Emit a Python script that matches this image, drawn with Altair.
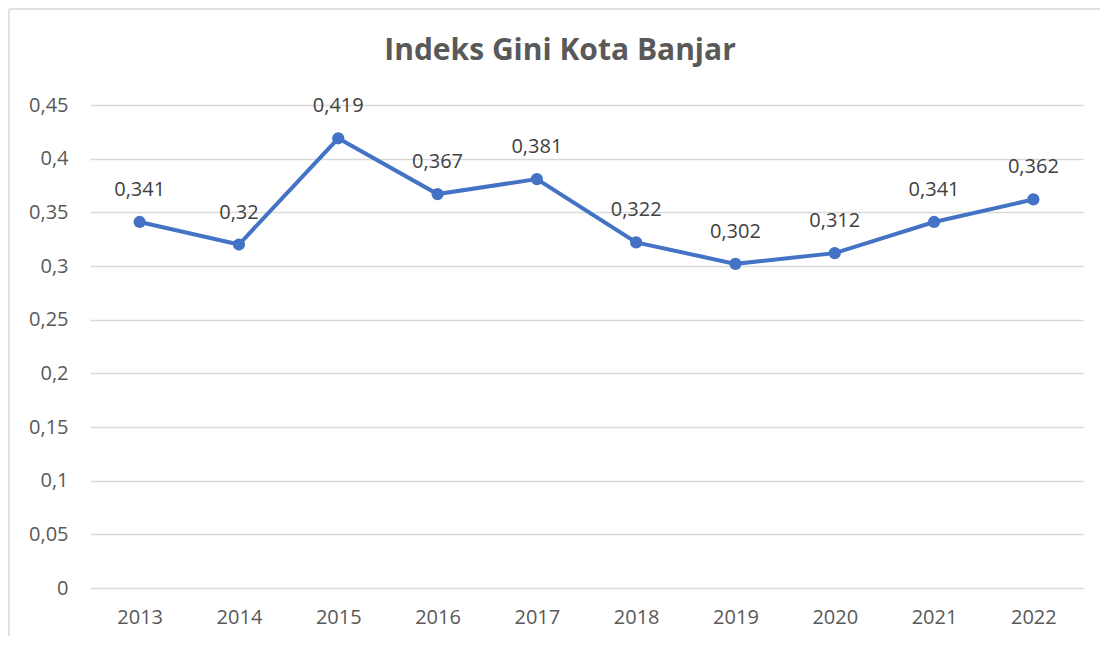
import altair as alt
import pandas as pd

years = ["2013", "2014", "2015", "2016", "2017", "2018", "2019", "2020", "2021", "2022"]
gini = [0.341, 0.32, 0.419, 0.367, 0.381, 0.322, 0.302, 0.312, 0.341, 0.362]
labels = ["0,341", "0,32", "0,419", "0,367", "0,381", "0,322", "0,302", "0,312", "0,341", "0,362"]
title_text = "Indeks Gini Kota Banjar"

df = pd.DataFrame({"year": years, "gini": gini, "label": labels})

FONT = "Open Sans"
FS = 20
W, H = 993, 483

x = alt.X("year:N", sort=years, title=None,
          scale=alt.Scale(paddingInner=1, paddingOuter=0.5),
          axis=alt.Axis(labelAngle=0, domain=False, ticks=False, labelPadding=19,
                        labelFont=FONT, labelFontSize=FS, labelColor="#595959", grid=False))
y = alt.Y("gini:Q", title=None,
          scale=alt.Scale(domain=[0, 0.45], nice=False),
          axis=alt.Axis(values=[0, 0.05, 0.1, 0.15, 0.2, 0.25, 0.3, 0.35, 0.4, 0.45],
                        labelExpr="replace(format(datum.value, '~g'), '.', ',')",
                        domain=False, ticks=False, labelPadding=22,
                        labelFont=FONT, labelFontSize=FS, labelColor="#595959",
                        grid=True, gridColor="#d9d9d9", gridWidth=1.5))

base = alt.Chart(df)

line = base.mark_line(color="#4472C4", strokeWidth=4).encode(x=x, y=y)
pts = base.mark_point(color="#4472C4", filled=True, opacity=1, size=150).encode(x=x, y=y)
txt = base.mark_text(font=FONT, fontSize=FS, color="#404040", dy=-32).encode(
    x=x, y=y, text="label:N")

title = alt.Chart(pd.DataFrame({"t": [title_text]})).mark_text(
    font=FONT, fontSize=30, fontWeight="bold", color="#595959"
).encode(x=alt.value(470), y=alt.value(-54), text="t:N")

border_left = alt.Chart(pd.DataFrame({"a": [0]})).mark_rule(color="#d9d9d9", strokeWidth=1.5).encode(
    x=alt.value(-81), y=alt.value(-96), y2=alt.value(540))
border_top = alt.Chart(pd.DataFrame({"a": [0]})).mark_rule(color="#d9d9d9", strokeWidth=1.5).encode(
    x=alt.value(-81), x2=alt.value(1010), y=alt.value(-96))

chart = alt.layer(border_left, border_top, line, pts, txt, title).properties(
    width=W, height=H,
    background="white",
    autosize=alt.AutoSizeParams(type="none"),
    padding={"left": 82, "top": 97, "right": 17, "bottom": 48},
).configure_view(stroke=None)

chart.save("out.html", embed_options={"renderer": "svg", "actions": False})
